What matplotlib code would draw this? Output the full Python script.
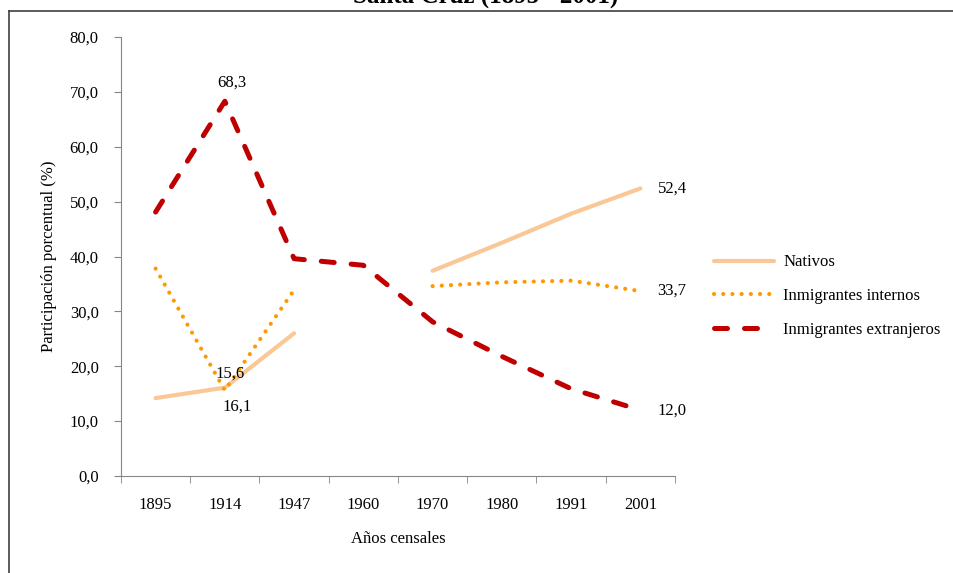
import numpy as np
import matplotlib.pyplot as plt
from matplotlib.lines import Line2D
from matplotlib.ticker import FuncFormatter

plt.rcParams['font.family'] = ['Liberation Serif', 'DejaVu Serif']

# Datos (%)
anios = ['1895', '1914', '1947', '1960', '1970', '1980', '1991', '2001']
nativos = [14.2, 16.1, 26.0, np.nan, 37.4, 42.5, 47.8, 52.4]
internos = [37.8, 15.6, 33.9, np.nan, 34.6, 35.3, 35.6, 33.7]
extranjeros = [48.1, 68.3, 39.6, 38.4, 28.1, 21.8, 15.9, 12.0]

x = np.arange(len(anios))

fig = plt.figure(figsize=(9.54, 5.73), dpi=100)
ax = fig.add_axes([0.1268, 0.1693, 0.5807, 0.7661])

ax.plot(x, nativos, color='#FAC896', lw=3.0, solid_capstyle='round',
        label='Nativos')
ax.plot(x, internos, color='#FF9900', lw=3.0, linestyle=(0, (0.01, 2.2)),
        dash_capstyle='round', label='Inmigrantes internos')
ax.plot(x, extranjeros, color='#C00000', lw=3.6, linestyle=(0, (2.6, 3.4)),
        dash_capstyle='round', label='Inmigrantes extranjeros')

# etiquetas de valores
fs = 12
ax.text(1.1, 68.3 + 2.0, '68,3', ha='center', va='bottom', fontsize=fs)
ax.text(1.08, 15.6 + 1.6, '15,6', ha='center', va='bottom', fontsize=fs)
ax.text(1.18, 16.1 - 2.0, '16,1', ha='center', va='top', fontsize=fs)
ax.text(7.25, 52.4, '52,4', ha='left', va='center', fontsize=fs)
ax.text(7.25, 33.7, '33,7', ha='left', va='center', fontsize=fs)
ax.text(7.25, 12.0, '12,0', ha='left', va='center', fontsize=fs)

ax.set_xlim(-0.5, 7.5)
ax.set_ylim(0, 80)
ax.set_yticks(np.arange(0, 81, 10))
ax.yaxis.set_major_formatter(FuncFormatter(lambda v, p: f'{v:.1f}'.replace('.', ',')))
ax.set_xticks(x)
ax.set_xticklabels(anios)
ax.set_xticks(np.arange(-0.5, 8, 1), minor=True)
ax.tick_params(axis='x', which='major', length=0, pad=15, labelsize=fs)
ax.tick_params(axis='x', which='minor', length=5, color='#868686', direction='out')
ax.tick_params(axis='y', length=5, color='#868686', pad=11, labelsize=fs)

for s in ['top', 'right']:
    ax.spines[s].set_visible(False)
for s in ['left', 'bottom']:
    ax.spines[s].set_color('#868686')

ax.set_ylabel('Participación porcentual (%)', fontsize=fs, labelpad=9)
ax.set_xlabel('Años censales', fontsize=fs, labelpad=13)

fig.legend(loc='center left', bbox_to_anchor=(714 / 954, 1 - 296 / 573),
           bbox_transform=fig.transFigure, frameon=False, fontsize=fs,
           handlelength=3.6, handletextpad=0.55, labelspacing=1.05,
           borderpad=0, borderaxespad=0)

# título (cortado en la parte superior, como en el original) y marco
fig.text(486 / 954, 1 - 4 / 573, 'Santa Cruz (1895 - 2001)', ha='center',
         va='baseline', fontsize=18, fontweight='bold')
fig.add_artist(Line2D([9 / 954, 1], [1 - 10.5 / 573, 1 - 10.5 / 573],
                      transform=fig.transFigure, color='#404040', lw=1.2))
fig.add_artist(Line2D([9 / 954, 9 / 954], [0, 1 - 10.5 / 573],
                      transform=fig.transFigure, color='#404040', lw=1.2))

fig.savefig('out.png', dpi=100)
